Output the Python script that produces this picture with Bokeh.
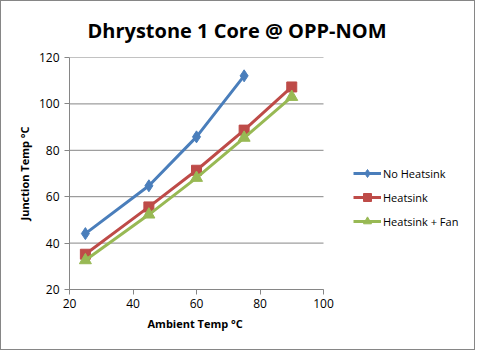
from bokeh.plotting import figure
from bokeh.models import Legend, LegendItem, FixedTicker, Range1d, Title
from bokeh.embed import file_html
from bokeh.resources import INLINE

ambient_nohs = [25, 45, 60, 75]
junction_nohs = [44.1, 64.7, 85.8, 112.1]
ambient_hs = [25, 45, 60, 75, 90]
junction_hs = [35.2, 55.6, 71.4, 88.7, 107.3]
ambient_fan = [25, 45, 60, 75, 90]
junction_fan = [32.6, 52.3, 68.1, 85.4, 103.0]
x_ticks = [20, 40, 60, 80, 100]
y_ticks = [20, 40, 60, 80, 100, 120]

FONT = "Open Sans"
GRAY = "#868686"

W, H = 475, 350
BL, BR, BT, BB = 68, 5, 56, 62
frame_w = W - BL - BR
axis_px = 254  # pixel length of the 20..100 axis in the reference
x_end = x_ticks[0] + (x_ticks[-1] - x_ticks[0]) * frame_w / axis_px

p = figure(width=W, height=H, output_backend="svg", toolbar_location=None,
           x_range=Range1d(x_ticks[0], x_end), y_range=Range1d(y_ticks[0], y_ticks[-1]),
           min_border_left=BL, min_border_right=BR, min_border_top=BT, min_border_bottom=BB,
           title="Dhrystone 1 Core @ OPP-NOM")
p.styles = {"border": "1px solid #868686"}
p.outline_line_color = None
p.background_fill_color = "white"
p.border_fill_color = "white"

p.title.align = "left"
p.title.offset = 18
p.title.text_font = FONT
p.title.text_font_size = "20px"
p.title.text_font_style = "bold"
p.title.text_color = "black"
p.title.standoff = 27

p.xgrid.grid_line_color = None
p.ygrid.grid_line_color = None
p.segment(x0=x_ticks[0], x1=x_ticks[-1], y0=y_ticks, y1=y_ticks,
          line_color=GRAY, line_width=1, level="underlay")

for ax in (p.xaxis[0], p.yaxis[0]):
    ax.axis_line_color = GRAY
    ax.major_tick_line_color = GRAY
    ax.minor_tick_line_color = None
    ax.major_tick_in = 0
    ax.major_tick_out = 5
    ax.major_label_text_font = FONT
    ax.major_label_text_font_size = "12px"
    ax.major_label_text_color = "black"
    ax.axis_label_text_font = FONT
    ax.axis_label_text_font_size = "11px"
    ax.axis_label_text_font_style = "bold"
    ax.axis_label_text_color = "black"

p.xaxis[0].ticker = FixedTicker(ticks=x_ticks)
p.xaxis[0].bounds = (x_ticks[0], x_ticks[-1])
p.yaxis[0].ticker = FixedTicker(ticks=y_ticks)
p.yaxis[0].axis_label = "Junction Temp °C"
p.yaxis[0].axis_label_standoff = 4
p.xaxis[0].major_label_standoff = 4
p.yaxis[0].major_label_standoff = 5

xlabel = Title(text="Ambient Temp °C", align="left", offset=78,
               text_font=FONT, text_font_size="11px", text_font_style="bold",
               text_color="black", standoff=7)
p.add_layout(xlabel, "below")

BLUE = "#4A7EBB"
RED = "#BE4B48"
GREEN = "#98B954"

l1 = p.line(ambient_nohs, junction_nohs, line_color=BLUE, line_width=3)
m1 = p.scatter(ambient_nohs, junction_nohs, marker="diamond", size=12, fill_color=BLUE, line_color=BLUE)
l2 = p.line(ambient_hs, junction_hs, line_color=RED, line_width=3)
m2 = p.scatter(ambient_hs, junction_hs, marker="square", size=10, fill_color=RED, line_color=RED)
l3 = p.line(ambient_fan, junction_fan, line_color=GREEN, line_width=3)
m3 = p.scatter(ambient_fan, junction_fan, marker="triangle", size=12, fill_color=GREEN, line_color=GREEN)

legend = Legend(items=[
    LegendItem(label="No Heatsink", renderers=[l1, m1]),
    LegendItem(label="Heatsink", renderers=[l2, m2]),
    LegendItem(label="Heatsink + Fan", renderers=[l3, m3]),
], location=(284, 58))
legend.border_line_color = None
legend.background_fill_alpha = 0
legend.padding = 0
legend.margin = 0
legend.spacing = 4
legend.glyph_width = 28
legend.glyph_height = 20
legend.label_height = 20
legend.label_standoff = 2
legend.label_text_font = FONT
legend.label_text_font_size = "11px"
legend.label_text_color = "black"
p.add_layout(legend, "center")

open("out.html", "w").write(file_html(p, INLINE))
